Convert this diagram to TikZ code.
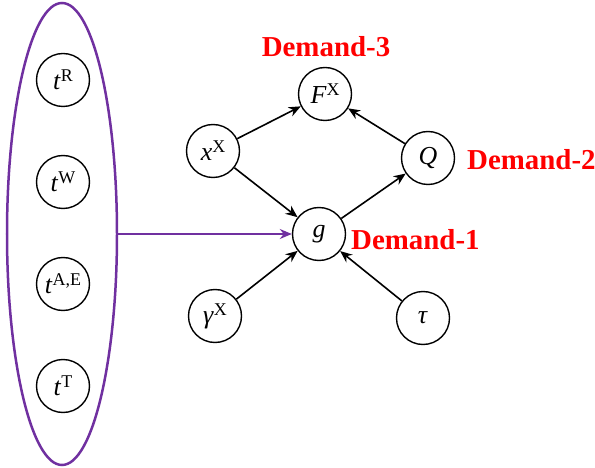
\documentclass[tikz,border=0pt]{standalone}
\usepackage{fontspec}
\setmainfont{Liberation Serif}[BoldFont={Liberation Serif Bold},ItalicFont={Liberation Serif Italic}]
\newfontfamily\tms{Liberation Serif}
\usetikzlibrary{arrows.meta,shapes.geometric}
\definecolor{vio}{HTML}{7030A0}
\tikzset{
  var/.style={circle,draw=black,line width=1.4bp,minimum size=53bp,inner sep=0pt,font=\tms\fontsize{26}{26}\selectfont},
  lbl/.style={text=red,font=\tms\fontsize{29}{29}\selectfont\bfseries,inner sep=0pt},
  arr/.style={line width=1.6bp,-{Stealth[length=12bp,width=10bp]}},
}
\newcommand{\sv}[2]{\textit{#1}\raisebox{8bp}{\fontsize{18}{18}\selectfont #2}}
\begin{document}
\begin{tikzpicture}[x=1bp,y=-1bp]
\useasboundingbox (0,0) rectangle (595,468);
\node[ellipse,draw=vio,line width=2.5bp,minimum width=110bp,minimum height=462bp,inner sep=0pt] (E) at (62,234) {};
\node[var] (tR) at (63,80) {\sv{t}{R}};
\node[var] (tW) at (63,182) {\sv{t}{W}};
\node[var] (tAE) at (63,284) {\sv{t}{A,E}};
\node[var] (tT) at (63,386) {\sv{t}{T}};
\node[var] (F) at (325,94) {\sv{F}{X}};
\node[var] (x) at (213,151) {\sv{x}{X}};
\node[var] (Q) at (428,158) {\textit{Q}};
\node[var] (g) at (319,234) {\textit{g}};
\node[var] (gam) at (215,316) {\sv{γ}{X}};
\node[var] (tau) at (423,318) {\textit{τ}};
\node[lbl] (d3) at (326,47) {Demand-3};
\node[lbl,anchor=west] (d2) at (467,160) {Demand-2};
\node[lbl,anchor=west] (d1) at (351,240) {Demand-1};
\draw[arr] (x) -- (F);
\draw[arr] (Q) -- (F);
\draw[arr] (x) -- (g);
\draw[arr] (g) -- (Q);
\draw[arr] (gam) -- (g);
\draw[arr] (tau) -- (g);
\draw[arr,draw=vio,fill=vio] (E.east) -- (g);
\end{tikzpicture}
\end{document}
